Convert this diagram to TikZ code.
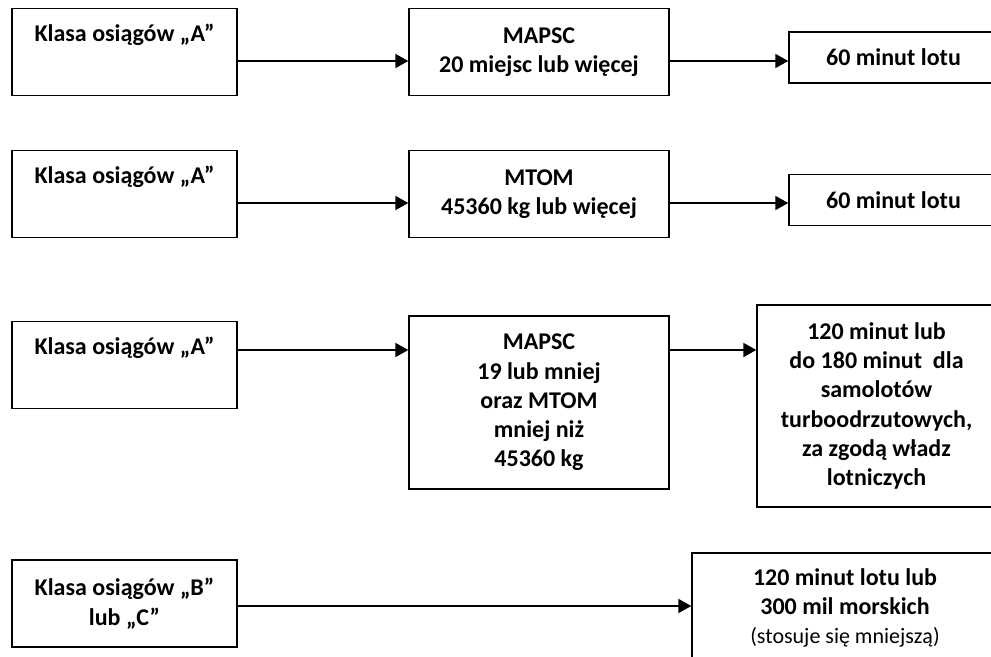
\documentclass[tikz,border=0pt]{standalone}
\usepackage{fontspec}
\setmainfont{Carlito}
\usetikzlibrary{arrows.meta}
\tikzset{
  box/.style={rectangle,draw=black,line width=0.7pt,fill=white,align=center,inner sep=0pt,font=\fontsize{12}{14.65}\selectfont\bfseries},
  classbox/.style={box,minimum width=112.5pt,minimum height=43.5pt},
  topline/.style={text height=9pt,text depth=19pt},
  condbox/.style={box,minimum width=130pt,minimum height=43.5pt},
  timebox/.style={box,minimum width=104.5pt,minimum height=25.5pt},
  arrow/.style={-{Triangle[length=6.5pt,width=7pt]},line width=1pt}
}
\begin{document}
\begin{tikzpicture}[x=0.5pt,y=-0.5pt]
  \useasboundingbox (0,0) rectangle (991,657);
  \clip (0,0) rectangle (991,657);
  % rows of arrows
  \coordinate (r1) at (0,61);
  \coordinate (r2) at (0,203);
  \coordinate (r3) at (0,350);
  \coordinate (r4) at (0,606);
  % row 1
  \node[classbox,topline] (a1) at (124.5,52) {Klasa osiągów „A”};
  \node[condbox] (m1) at (539,52) {MAPSC\\20 miejsc lub więcej};
  \node[timebox] (t1) at (893.5,57.5) {60 minut lotu};
  % row 2
  \node[classbox,topline] (a2) at (124.5,194) {Klasa osiągów „A”};
  \node[condbox] (m2) at (539,194) {MTOM\\45360 kg lub więcej};
  \node[timebox] (t2) at (893.5,200) {60 minut lotu};
  % row 3
  \node[classbox,topline] (a3) at (124.5,365) {Klasa osiągów „A”};
  \node[condbox,minimum height=86.5pt] (m3) at (539,402.5) {MAPSC\\19 lub mniej\\oraz MTOM\\mniej niż\\45360 kg};
  \node[box,minimum width=119.5pt,minimum height=101pt] (t3) at (876.5,406)
    {120 minut lub\\do 180 minut~ dla\\samolotów\\turboodrzutowych,\\za zgodą władz\\lotniczych};
  % row 4
  \node[classbox] (a4) at (124.5,603.5) {Klasa osiągów „B”\\lub „C”};
  \node[box,minimum width=153pt,minimum height=55pt] (t4) at (845,608)
    {120 minut lotu lub\\300 mil morskich\\{\mdseries\fontsize{11}{14}\selectfont (stosuje się mniejszą)}};
  % arrows
  \draw[arrow] (a1.east |- r1) -- (m1.west |- r1);
  \draw[arrow] (m1.east |- r1) -- (t1.west |- r1);
  \draw[arrow] (a2.east |- r2) -- (m2.west |- r2);
  \draw[arrow] (m2.east |- r2) -- (t2.west |- r2);
  \draw[arrow] (a3.east |- r3) -- (m3.west |- r3);
  \draw[arrow] (m3.east |- r3) -- (t3.west |- r3);
  \draw[arrow] (a4.east |- r4) -- (t4.west |- r4);
\end{tikzpicture}
\end{document}
